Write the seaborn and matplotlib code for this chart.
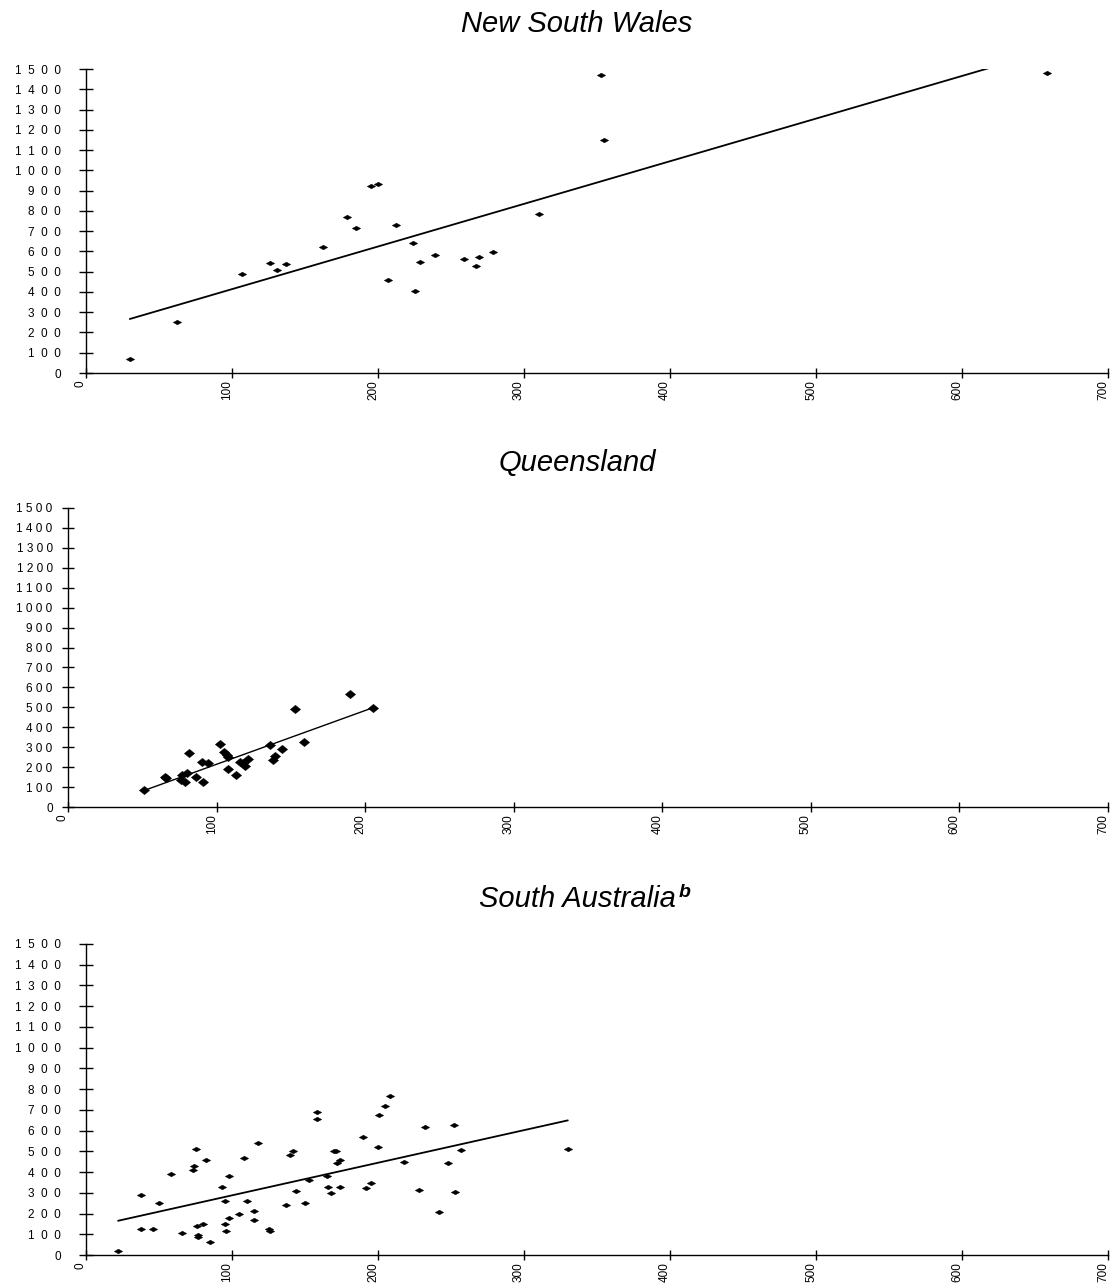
import numpy as np
import pandas as pd
import matplotlib
matplotlib.use("Agg")
import matplotlib.pyplot as plt
import matplotlib.ticker as mticker
import matplotlib.transforms as mtransforms
import seaborn as sns

# Values
nsw_x = [30, 62, 107, 126, 131, 137, 162, 179, 185, 195, 200, 212, 207, 224, 225,
         229, 239, 259, 269, 267, 279, 310, 353, 355, 658]
nsw_y = [70, 250, 488, 543, 508, 538, 622, 770, 715, 923, 932, 730, 459, 641, 405,
         547, 582, 563, 572, 528, 597, 784, 1470, 1149, 1480]

qld_x = [51, 65, 66, 76, 77, 79, 80, 81.5, 86, 91, 90, 94, 102, 105, 107, 108, 108,
         113, 116, 119, 121, 118, 136, 139, 138, 144, 153, 159, 190, 205]
qld_y = [85, 149, 145, 135, 160, 127, 169, 269, 152, 127, 226, 219, 315, 278, 261,
         252, 192, 162, 226, 206, 239, 219, 311, 256, 236, 290, 493, 326, 565, 497]

sa_x = [22, 38, 38, 46, 50, 58, 66, 73, 74, 75, 76, 77, 77, 80, 82, 85, 93, 95, 95,
        96, 98, 98, 105, 108, 110, 115, 115, 118, 125, 126, 137, 140, 142, 144, 150,
        153, 158, 158, 165, 166, 168, 170, 171, 172, 174, 174, 190, 192, 195, 200,
        201, 205, 208, 218, 228, 232, 242, 248, 252, 253, 257, 330]
sa_y = [20, 290, 125, 125, 250, 390, 105, 410, 430, 510, 140, 95, 85, 150, 460, 65,
        330, 260, 150, 115, 180, 380, 200, 470, 260, 210, 170, 540, 125, 115, 240,
        480, 500, 310, 250, 360, 690, 655, 380, 330, 300, 500, 500, 445, 460, 330,
        570, 325, 345, 520, 675, 720, 765, 450, 315, 615, 205, 445, 625, 305, 505, 510]

titles = ["New South Wales", "Queensland", "South Australia"]
x_ticks = [0, 100, 200, 300, 400, 500, 600, 700]
y_ticks = list(range(0, 1501, 100))

W, H = 1110, 1285

sns.set_theme(style="white")
plt.rcParams['font.family'] = ['Liberation Sans', 'DejaVu Sans']

# wider, flatter diamond like the original marker
flat_diamond = [(-1, 0), (0, 0.56), (1, 0), (0, -0.56), (-1, 0)]
fat_diamond = [(-1, 0), (0, 0.82), (1, 0), (0, -0.82), (-1, 0)]

panels = [
    dict(x=nsw_x, y=nsw_y, title=titles[0], box=(86, 69, 1108, 373),
         marker=flat_diamond, s=36, sep="  ", ypad=13, ylen=10, lw=1.3),
    dict(x=qld_x, y=qld_y, title=titles[1], box=(68, 508, 1108, 807),
         marker=fat_diamond, s=55, sep=" ", ypad=7, ylen=8, lw=1.0),
    dict(x=sa_x, y=sa_y, title=titles[2], box=(86, 944, 1108, 1255),
         marker=flat_diamond, s=36, sep="  ", ypad=13, ylen=10, lw=1.3),
]

fig = plt.figure(figsize=(W / 100, H / 100), dpi=100)
title_texts = []
# x labels sit a little left of their ticks in the original
shift = mtransforms.ScaledTranslation(-5 / 100, 0, fig.dpi_scale_trans)

for p in panels:
    left, top, right, bottom = p["box"]
    ax = fig.add_axes([left / W, 1 - bottom / H, (right - left) / W, (bottom - top) / H])
    df = pd.DataFrame({"x": p["x"], "y": p["y"]})

    sns.regplot(data=df, x="x", y="y", ax=ax, scatter=False, ci=None, truncate=True,
                line_kws=dict(color="black", lw=p["lw"]))
    sns.scatterplot(data=df, x="x", y="y", ax=ax, marker=p["marker"], s=p["s"],
                    color="black", edgecolor="black", linewidth=0.3, zorder=3)

    ax.set_xlim(0, 700)
    ax.set_ylim(0, 1500)
    ax.set_xticks(x_ticks)
    ax.set_yticks(y_ticks)
    sep = p["sep"]
    ax.yaxis.set_major_formatter(mticker.FuncFormatter(lambda v, pos, sep=sep: sep.join(str(int(v)))))
    ax.set_xlabel("")
    ax.set_ylabel("")
    for side in ["top", "right"]:
        ax.spines[side].set_visible(False)
    for side in ["left", "bottom"]:
        ax.spines[side].set_color("black")
        ax.spines[side].set_linewidth(1.0)
    ax.tick_params(axis="y", direction="inout", length=p["ylen"], width=1.0,
                   pad=p["ypad"], labelsize=8.5, colors="black", left=True)
    ax.tick_params(axis="x", direction="inout", length=6.5, width=1.0, pad=2,
                   labelsize=8.5, colors="black", labelrotation=90, bottom=True)
    for lbl in ax.get_xticklabels():
        lbl.set_transform(lbl.get_transform() + shift)

    t = fig.text(577 / W, 1 - (top - 37) / H, p["title"], fontsize=21, style="italic",
                 ha="center", va="baseline", color="black")
    title_texts.append(t)

# superscript "b" after South Australia
fig.canvas.draw()
bb = title_texts[2].get_window_extent()
fig.text((bb.x1 + 3) / W, (bb.y0 + 16) / H, "b", fontsize=14, style="italic",
         fontweight="bold", ha="left", va="baseline", color="black")

fig.savefig("out.png", dpi=100, facecolor="white")
